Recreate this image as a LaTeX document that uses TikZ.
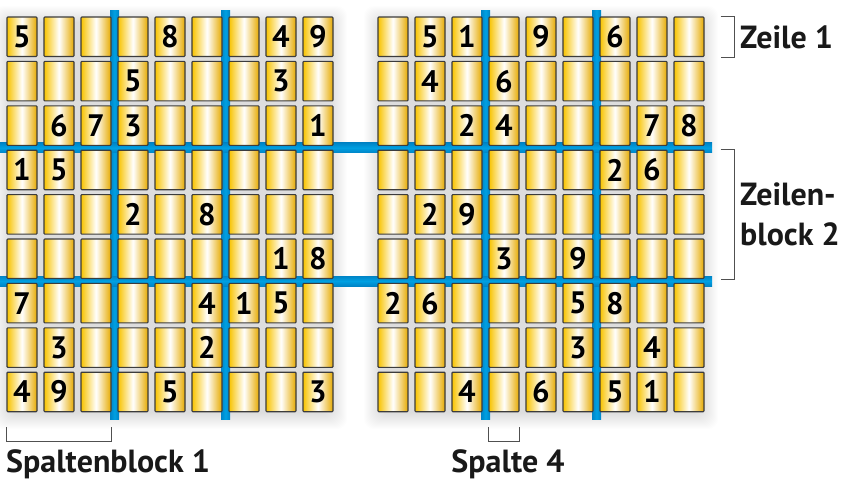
\documentclass[tikz,border=0pt]{standalone}
\usepackage{fontspec}
\setmainfont{PT Sans}
\usetikzlibrary{positioning, calc, backgrounds}
\definecolor{cellGold}{HTML}{F8C300}
\definecolor{cellGoldDark}{HTML}{E6AA00}
\definecolor{cellEdge}{HTML}{3C3C3C}
\definecolor{blockBlue}{HTML}{00A0E2}
\definecolor{blockBlueDark}{HTML}{0084C6}
\definecolor{bracketGray}{HTML}{505050}
\pgfdeclarehorizontalshading{cellshade}{100bp}{color(0bp)=(cellGold); color(25bp)=(cellGold);
  color(50bp)=(white); color(75bp)=(cellGoldDark); color(100bp)=(cellGoldDark)}

\begin{document}
\begin{tikzpicture}[
  x=1pt, y=-1pt,
  cell/.style={draw=cellEdge, line width=1.1pt, shading=cellshade, minimum width=30pt,
               minimum height=39.5pt, inner sep=0pt, rounded corners=0.8pt,
               font=\bfseries\fontsize{31}{31}\selectfont},
  tag/.style={font=\bfseries\fontsize{32}{40}\selectfont, inner sep=0pt, text=black!90},
  bracket/.style={draw=bracketGray, line width=0.9pt},
  hbar/.style={top color=blockBlueDark, bottom color=blockBlueDark, middle color=blockBlue},
  vbar/.style={left color=blockBlueDark, right color=blockBlueDark, middle color=blockBlue}
]
\useasboundingbox (0,0) rectangle (860,491);

% left sudoku
\foreach \row [count=\r] in {{5,,,,8,,,4,9},{,,,5,,,,3,},{,6,7,3,,,,,1},{1,5,,,,,,,},{,,,2,,8,,,},
                             {,,,,,,,1,8},{7,,,,,4,1,5,},{,3,,,,2,,,},{4,9,,,5,,,,3}}
  \foreach \d [count=\c] in \row
    \node[cell] (L-\r-\c) at ({22+37*(\c-1)},{36.75+44.4*(\r-1)}) {\d};

% right sudoku
\foreach \row [count=\r] in {{,5,1,,9,,6,,},{,4,,6,,,,,},{,,2,4,,,,7,8},{,,,,,,2,6,},{,2,9,,,,,,},
                             {,,,3,,9,,,},{2,6,,,,5,8,,},{,,,,,3,,4,},{,,4,,6,,5,1,}}
  \foreach \d [count=\c] in \row
    \node[cell] (R-\r-\c) at ({393+37*(\c-1)},{36.75+44.4*(\r-1)}) {\d};

\begin{scope}[on background layer]
  % soft shadow under both grids
  \foreach \i in {0,...,16} {
    \fill[black, opacity=0.009, rounded corners=10pt] (9-\i,22-\i) rectangle (331+\i,413+\i);
    \fill[black, opacity=0.009, rounded corners=10pt] (380-\i,22-\i) rectangle (702+\i,413+\i);
  }
  % block lines
  \foreach \x in {114.5,225.5,485.5,596.5}
    \shade[vbar] (\x-4.5,10) rectangle (\x+4.5,419);
  \foreach \y in {147.8,281}
    \shade[hbar] (0,\y-5) rectangle (712,\y+5);
\end{scope}

% labels
\node[tag, anchor=base west] (zeile) at (740,48) {Zeile 1};
\node[tag, anchor=west, align=left] (zeilenblock) at (740,214) {Zeilen-\\block 2};
\node[tag, anchor=base west] (spaltenblock) at (6,472) {Spaltenblock 1};
\node[tag, anchor=base] (spalte) at (508,472) {Spalte 4};

% brackets
\draw[bracket] ($(R-1-9.north east)+(16,0)$) -- ($(R-1-9.north east)+(30,0)$)
  -- ($(R-1-9.south east)+(30,0)$) -- ($(R-1-9.south east)+(16,0)$);
\draw[bracket] ($(R-4-9.north east)+(16,0)$) -- ($(R-4-9.north east)+(30,0)$)
  -- ($(R-6-9.south east)+(30,0)$) -- ($(R-6-9.south east)+(16,0)$);
\draw[bracket] ($(L-9-1.south west)+(0,15)$) -- ($(L-9-1.south west)+(0,29)$)
  -- ($(L-9-3.south east)+(0,29)$) -- ($(L-9-3.south east)+(0,15)$);
\draw[bracket] ($(R-9-4.south west)+(0,15)$) -- ($(R-9-4.south west)+(0,29)$)
  -- ($(R-9-4.south east)+(0,29)$) -- ($(R-9-4.south east)+(0,15)$);
\end{tikzpicture}
\end{document}
